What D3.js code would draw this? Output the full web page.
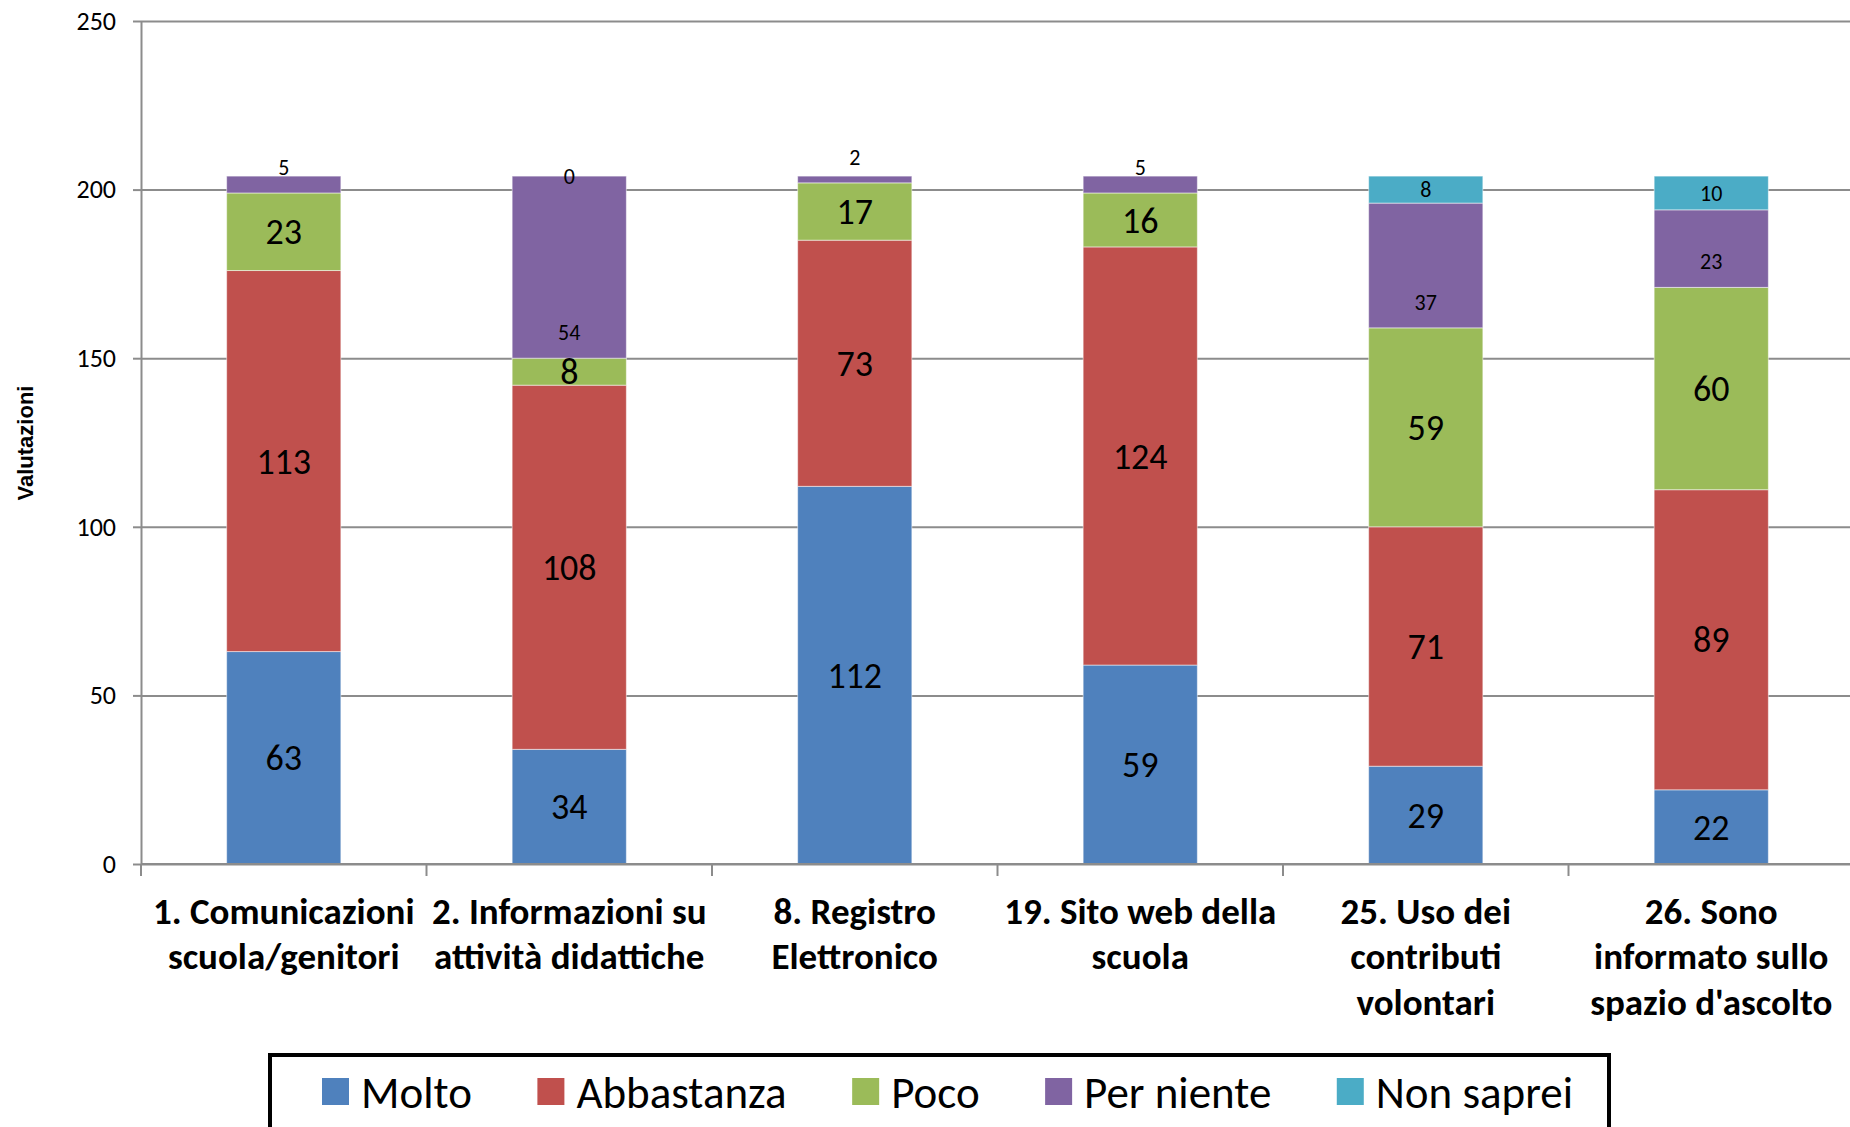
<!DOCTYPE html>
<html>
<head>
<meta charset="utf-8">
<script src="https://cdn.jsdelivr.net/npm/d3@7"></script>
<style>
  body { margin: 0; background: #fff; }
  svg { display: block; font-family: Carlito, Lato, "Open Sans", sans-serif; }
</style>
</head>
<body>
<div id="chart"></div>
<script>
// categories (already wrapped as in the original)
var categories = [
  ["1. Comunicazioni", "scuola/genitori"],
  ["2. Informazioni su", "attività didattiche"],
  ["8. Registro", "Elettronico"],
  ["19. Sito web della", "scuola"],
  ["25. Uso dei", "contributi", "volontari"],
  ["26. Sono", "informato sullo", "spazio d'ascolto"]
];
var seriesNames = ["Molto", "Abbastanza", "Poco", "Per niente", "Non saprei"];
var molto      = [63, 34, 112, 59, 29, 22];
var abbastanza = [113, 108, 73, 124, 71, 89];
var poco       = [23, 8, 17, 16, 59, 60];
var perNiente  = [5, 54, 2, 5, 37, 23];
var nonSaprei  = [null, 0, null, null, 8, 10];
var yTicks = [0, 50, 100, 150, 200, 250];
var colors = ["#4f81bd", "#c0504d", "#9bbb59", "#8064a2", "#4bacc6"];

const W = 1850, H = 1127;
const margin = {top: 21, left: 141, right: -4, bottom: 263};
const width = W - margin.left - margin.right,
      height = H - margin.top - margin.bottom;

var svg = d3.select("#chart")
  .append("svg")
  .attr("width", W)
  .attr("height", H);

var g = svg.append("g")
  .attr("transform", "translate(" + margin.left + "," + margin.top + ")");

var idx = d3.range(categories.length);
var x = d3.scaleBand().domain(idx).range([0, width]).padding(0);
var y = d3.scaleLinear().domain([0, 250]).range([height, 0]);

// gridlines
g.append("g")
  .attr("class", "grid")
  .call(d3.axisLeft(y).tickValues(yTicks).tickSize(-width).tickFormat(""))
  .call(function(s) {
    s.select(".domain").remove();
    s.selectAll("line").attr("stroke", "#8c8c8c").attr("stroke-width", 2);
  });

// y axis
g.append("g")
  .attr("class", "axis-y")
  .call(d3.axisLeft(y).tickValues(yTicks).tickSize(8).tickPadding(17).tickSizeOuter(0))
  .call(function(s) {
    s.select(".domain").attr("stroke", "#8c8c8c").attr("stroke-width", 2);
    s.selectAll("line").attr("stroke", "#8c8c8c").attr("stroke-width", 2);
    s.selectAll("text").attr("font-size", 26).attr("fill", "#000")
      .style("font-family", "Carlito, Lato, sans-serif");
  });

// stacked data
var table = idx.map(function(i) {
  return {i: i, "Molto": molto[i], "Abbastanza": abbastanza[i], "Poco": poco[i],
          "Per niente": perNiente[i], "Non saprei": nonSaprei[i]};
});
var stack = d3.stack().keys(seriesNames).value(function(d, k) { return d[k] || 0; });
var layers = stack(table);

var barW = x.bandwidth() * 0.4;
var barX = function(i) { return x(i) + (x.bandwidth() - barW) / 2; };

var layer = g.selectAll(".layer")
  .data(layers)
  .enter()
  .append("g")
  .attr("class", "layer")
  .attr("fill", function(d, k) { return colors[k]; });

layer.selectAll("rect")
  .data(function(d) { return d; })
  .enter()
  .append("rect")
  .attr("x", function(d) { return barX(d.data.i); })
  .attr("y", function(d) { return y(d[1]); })
  .attr("width", barW)
  .attr("height", function(d) { return y(d[0]) - y(d[1]); })
  .attr("stroke", "#fff")
  .attr("stroke-opacity", 0.5)
  .attr("stroke-width", 1);

// data labels
layers.forEach(function(L, k) {
  var key = seriesNames[k];
  var small = k >= 3;
  g.selectAll(".lbl" + k)
    .data(L.filter(function(d) { return d.data[key] !== null; }))
    .enter()
    .append("text")
    .attr("class", "lbl" + k)
    .attr("x", function(d) { return barX(d.data.i) + barW / 2; })
    .attr("y", function(d) {
      if (key === "Per niente") return y(d[0]) - 26;
      return (y(d[0]) + y(d[1])) / 2;
    })
    .attr("dy", "0.35em")
    .attr("text-anchor", "middle")
    .attr("font-size", small ? 22 : 36)
    .attr("fill", "#000")
    .text(function(d) { return d.data[key]; });
});

// x axis line + boundary ticks
g.append("line")
  .attr("x1", 0).attr("x2", width)
  .attr("y1", height).attr("y2", height)
  .attr("stroke", "#8c8c8c").attr("stroke-width", 2);

g.selectAll(".xtick")
  .data(idx)
  .enter()
  .append("line")
  .attr("class", "xtick")
  .attr("x1", function(i) { return x(i); })
  .attr("x2", function(i) { return x(i); })
  .attr("y1", height)
  .attr("y2", height + 12)
  .attr("stroke", "#8c8c8c").attr("stroke-width", 2);

// category labels
var cat = g.selectAll(".cat")
  .data(idx)
  .enter()
  .append("text")
  .attr("class", "cat")
  .attr("text-anchor", "middle")
  .attr("font-size", 37)
  .attr("font-weight", "bold")
  .attr("fill", "#000");

cat.selectAll("tspan")
  .data(function(i) { return categories[i].map(function(t, j) { return {i: i, t: t, j: j}; }); })
  .enter()
  .append("tspan")
  .attr("x", function(d) { return x(d.i) + x.bandwidth() / 2; })
  .attr("y", function(d) { return height + 47 + d.j * 45.5; })
  .attr("dy", "0.35em")
  .text(function(d) { return d.t; });

// y title
svg.append("text")
  .attr("transform", "translate(25,443) rotate(-90)")
  .attr("text-anchor", "middle")
  .attr("dy", "0.35em")
  .attr("font-size", 22)
  .attr("font-weight", "bold")
  .style("font-family", "'Liberation Sans', Arial, sans-serif")
  .text("Valutazioni");

// legend
var legend = svg.append("g").attr("class", "legend");
legend.append("rect")
  .attr("x", 270).attr("y", 1055)
  .attr("width", 1339).attr("height", 100)
  .attr("fill", "#fff")
  .attr("stroke", "#000")
  .attr("stroke-width", 4);

var items = seriesNames.map(function(name, k) {
  var it = legend.append("g");
  it.append("rect")
    .attr("y", 1078)
    .attr("width", 27).attr("height", 27)
    .attr("fill", colors[k]);
  var t = it.append("text")
    .attr("y", 1092)
    .attr("dy", "0.35em")
    .attr("font-size", 45)
    .attr("fill", "#000")
    .text(name);
  return {g: it, w: t.node().getComputedTextLength()};
});
var legStart = 322, legEnd = 1573;
var sumW = d3.sum(items, function(d) { return d.w; });
var gap = (legEnd - legStart - items.length * 39 - sumW) / (items.length - 1);
var lx = legStart;
items.forEach(function(d) {
  d.g.select("rect").attr("x", lx);
  d.g.select("text").attr("x", lx + 39);
  lx += 39 + d.w + gap;
});
</script>
</body>
</html>
